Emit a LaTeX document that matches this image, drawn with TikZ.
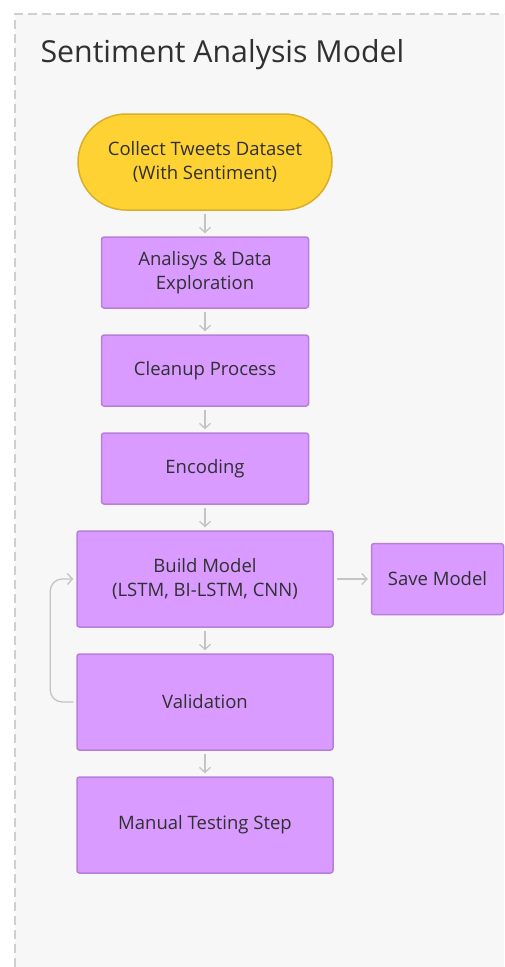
\documentclass[tikz,border=0pt]{standalone}
\usepackage{fontspec}
\setmainfont{Open Sans}
\usetikzlibrary{arrows.meta, positioning}
\definecolor{pillfill}{HTML}{FFD233}
\definecolor{pilledge}{HTML}{D9AE2A}
\definecolor{stepfill}{HTML}{D99BFF}
\definecolor{stepedge}{HTML}{B97DDA}
\definecolor{frameedge}{HTML}{CFCFCF}
\definecolor{framebg}{HTML}{F7F7F7}
\definecolor{flowgray}{HTML}{C4C4C4}
\definecolor{txtdark}{HTML}{303030}
\tikzset{
	pillnode/.style={draw=pilledge, fill=pillfill, line width=1.5pt, rounded corners=48pt,
		minimum width=254pt, minimum height=96pt, align=center, inner sep=0pt,
		font=\fontsize{18.5}{24}\selectfont, text=txtdark},
	stepbox/.style={draw=stepedge, fill=stepfill, line width=1.5pt, rounded corners=2.5pt,
		minimum width=207pt, minimum height=71pt, align=center, inner sep=0pt,
		font=\fontsize{18.5}{24}\selectfont, text=txtdark},
	bigbox/.style={stepbox, minimum width=256pt, minimum height=96pt},
	flow/.style={-{Straight Barb[length=5pt, width=11pt]}, line width=1.3pt, draw=flowgray,
		shorten <=3pt, shorten >=3pt}
}
\begin{document}
\begin{tikzpicture}[x=1pt, y=-1pt, node distance=25.5pt and 37pt]
	\useasboundingbox (0,0) rectangle (504,967);
	\fill[white] (0,0) rectangle (504,967);
	\fill[framebg] (15,14) rectangle (504,967);
	\draw[frameedge, line width=1.5pt, dash pattern=on 9pt off 5pt] (15,967) -- (15,14) -- (504,14);
	\node[anchor=base west, font=\fontsize{30.3}{34}\selectfont, text=txtdark] (title) at (37,62) {Sentiment Analysis Model};

	\node[pillnode] (collect) at (205,162) {Collect Tweets Dataset\\(With Sentiment)};
	\node[stepbox, below=of collect] (explore) {Analisys \& Data\\Exploration};
	\node[stepbox, below=of explore] (cleanup) {Cleanup Process};
	\node[stepbox, below=of cleanup] (encode) {Encoding};
	\node[bigbox, below=of encode] (build) {Build Model\\(LSTM, BI-LSTM, CNN)};
	\node[stepbox, minimum width=132pt, right=of build] (save) {Save Model};
	\node[bigbox, below=of build] (valid) {Validation};
	\node[bigbox, below=of valid] (manual) {Manual Testing Step};

	\draw[flow] (collect) -- (explore);
	\draw[flow] (explore) -- (cleanup);
	\draw[flow] (cleanup) -- (encode);
	\draw[flow] (encode) -- (build);
	\draw[flow] (build) -- (save);
	\draw[flow] (build) -- (valid);
	\draw[flow] (valid) -- (manual);
	\draw[flow, rounded corners=12pt] (valid.west) -- ++(-26,0) |- (build.west);
\end{tikzpicture}
\end{document}
